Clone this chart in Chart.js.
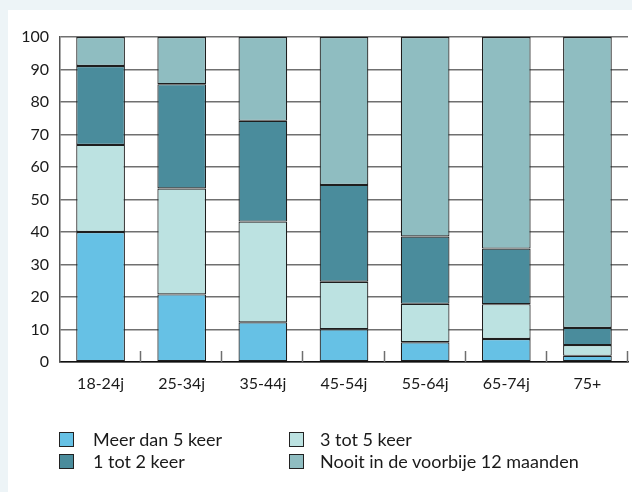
<!DOCTYPE html>
<html>
<head>
<meta charset="utf-8">
<script src="https://cdn.jsdelivr.net/npm/chart.js@4.4.1/dist/chart.umd.min.js"></script>
<style>
  html, body { margin: 0; padding: 0; }
  body { width: 632px; height: 492px; background: #edf4f7; position: relative; overflow: hidden; font-family: Lato, "Open Sans", sans-serif; }
  #panel { position: absolute; left: 8px; top: 10px; width: 624px; height: 482px; background: #ffffff; }
  #wrap { position: absolute; left: 0; top: 0; width: 632px; height: 410px; }
  #legend { position: absolute; left: 0; top: 0; width: 632px; height: 492px; pointer-events: none; }
  .item { position: absolute; font-size: 18px; line-height: 22px; color: #1a1a1a; white-space: nowrap; }
  .sw { position: absolute; width: 13px; height: 13px; border: 1px solid #222; box-sizing: content-box; }
</style>
</head>
<body>
<div id="panel"></div>
<div id="wrap"><canvas id="c" width="632" height="410"></canvas></div>
<div id="legend"></div>
<script>
const categories = ["18-24j", "25-34j", "35-44j", "45-54j", "55-64j", "65-74j", "75+"];
const seriesNames = ["Meer dan 5 keer", "3 tot 5 keer", "1 tot 2 keer", "Nooit in de voorbije 12 maanden"];
const meerDan5 = [40.0, 20.8, 12.2, 10.1, 6.1, 7.1, 1.9];
const drieTot5 = [26.8, 32.6, 31.0, 14.6, 11.8, 10.7, 3.3];
const eenTot2 = [24.3, 32.1, 31.0, 29.8, 20.7, 17.1, 5.3];
const nooit = [8.9, 14.5, 25.8, 45.5, 61.4, 65.1, 89.5];
const yTicks = [0, 10, 20, 30, 40, 50, 60, 70, 80, 90, 100];

const colors = ["#66c1e5", "#bce2e1", "#4a8c9c", "#8fbdc1"];
const seriesData = [meerDan5, drieTot5, eenTot2, nooit];

const insideTicks = {
  id: 'insideTicks',
  beforeDatasetsDraw(chart) {
    const x = chart.scales.x, y = chart.scales.y;
    const ctx = chart.ctx;
    const base = y.getPixelForValue(0);
    ctx.save();
    ctx.strokeStyle = '#6e6e6e';
    ctx.lineWidth = 1.5;
    for (let i = 1; i <= categories.length; i++) {
      const px = Math.round(x.getPixelForValue(i - 0.5)) - 0.5;
      ctx.beginPath();
      ctx.moveTo(px, base);
      ctx.lineTo(px, base - 11);
      ctx.stroke();
    }
    ctx.restore();
  }
};

new Chart(document.getElementById('c'), {
  type: 'bar',
  data: {
    labels: categories,
    datasets: seriesNames.map((n, i) => ({
      label: n,
      data: seriesData[i],
      backgroundColor: colors[i],
      borderColor: '#1e1e1e',
      borderWidth: 1.2,
      borderSkipped: false,
      categoryPercentage: 1.0,
      barPercentage: 0.6
    }))
  },
  options: {
    responsive: false,
    animation: false,
    devicePixelRatio: 1,
    layout: { padding: { left: 8, right: 4, top: 37, bottom: 0 } },
    plugins: { legend: { display: false }, tooltip: { enabled: false } },
    scales: {
      x: {
        stacked: true,
        grid: { display: false, drawTicks: false },
        border: { display: true, color: '#111', width: 1.5 },
        ticks: { color: '#1a1a1a', font: { family: 'Lato', size: 16 }, padding: 12 },
        afterFit(s) { s.height = 48; }
      },
      y: {
        stacked: true,
        min: 0, max: 100,
        afterBuildTicks(s) { s.ticks = yTicks.map(v => ({ value: v })); },
        grid: { color: '#707070', lineWidth: 1.5, drawTicks: false },
        border: { display: true, color: '#555', width: 1.5 },
        ticks: { color: '#1a1a1a', font: { family: 'Lato', size: 16 }, padding: 11 },
        afterFit(s) { s.width = 52; }
      }
    }
  },
  plugins: [insideTicks]
});

// HTML legend built from the series arrays
const legend = document.getElementById('legend');
const pos = [[59, 440], [289, 440], [59, 462], [289, 462]];
seriesNames.forEach((name, k) => {
  const [lx, ly] = pos[k];
  const sw = document.createElement('div');
  sw.className = 'sw';
  sw.style.left = lx + 'px';
  sw.style.top = (ly - 8) + 'px';
  sw.style.background = colors[k];
  legend.appendChild(sw);
  const t = document.createElement('div');
  t.className = 'item';
  t.textContent = name;
  t.style.left = (lx + (k % 2 === 0 ? 34 : 31)) + 'px';
  t.style.top = (ly - 12) + 'px';
  legend.appendChild(t);
});
</script>
</body>
</html>
